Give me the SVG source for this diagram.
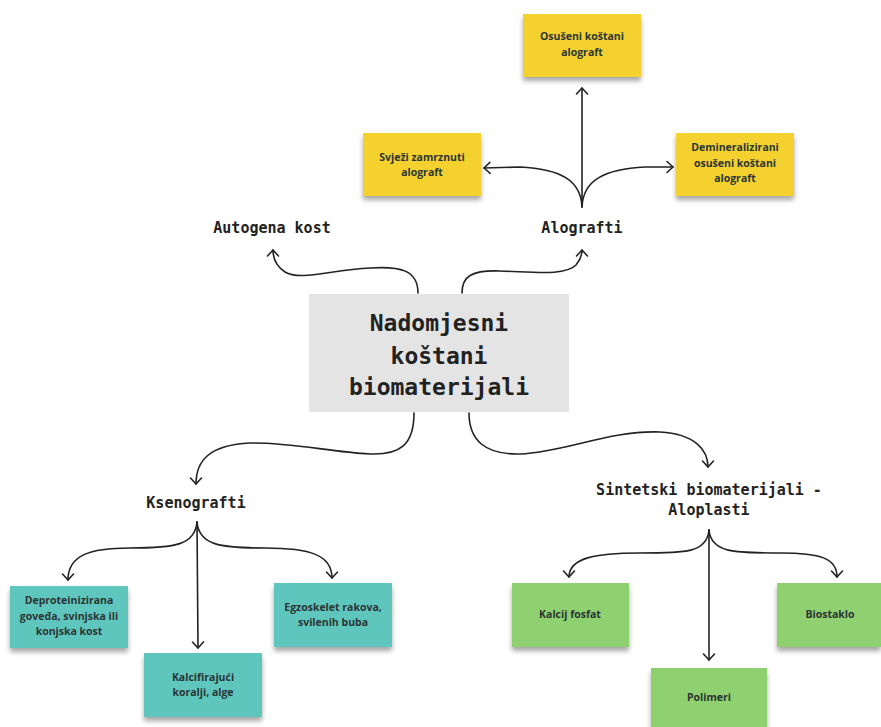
<svg xmlns="http://www.w3.org/2000/svg" width="881" height="727" viewBox="0 0 881 727">
<defs>
<filter id="sh" x="-10%" y="-10%" width="120%" height="140%">
<feDropShadow dx="0" dy="4" stdDeviation="2.5" flood-color="#000" flood-opacity="0.35"/>
</filter>
<marker id="ah" viewBox="-8 -7 10 14" markerWidth="10" markerHeight="14" refX="0" refY="0" orient="auto" markerUnits="userSpaceOnUse">
<path d="M-6,-5.5 L0,0 L-6,5.5" fill="none" stroke="#222" stroke-width="1.6" stroke-linecap="round" stroke-linejoin="round"/>
</marker>
<style>
.mono{font-family:"DejaVu Sans Mono","Liberation Mono",monospace;font-weight:bold;fill:#222;text-anchor:middle}
.lbl{font-size:15px}
.title{font-size:23px}
.note{font-family:"Open Sans","Noto Sans","Liberation Sans",sans-serif;font-weight:bold;font-size:10.5px;fill:#2b3535;text-anchor:middle}
.yel{fill:#f4d12d;filter:url(#sh)}
.teal{fill:#5ec6be;filter:url(#sh)}
.grn{fill:#8fd06f;filter:url(#sh)}
.con path{fill:none;stroke:#222;stroke-width:1.6;stroke-linecap:round;marker-end:url(#ah)}
</style>
</defs>
<rect width="881" height="727" fill="#fff"/>

<g class="con" id="connectors">
<path d="M418,293 C418,270 400,266 370,268 C330,270 300,281 285,272 C276,266 273,258 273,250"/>
<path d="M462,293 C462,276 472,270 500,271 C535,272 565,276 576,265 C581,259 582,255 582,250"/>
<path d="M582,207 L582,88"/>
<path d="M582,207 C581,180 560,169 520,167 L484,168"/>
<path d="M582,207 C583,180 605,169 645,167 L673,167"/>
<path d="M414,413 C414,445 400,455 370,454 C330,452 290,442 250,443 C210,445 196,460 196,484"/>
<path d="M469,413 C469,440 485,455 520,454 C565,452 610,430 660,432 C695,434 708,450 708,467"/>
<path d="M197,522 C195,545 175,548 130,548 C90,548 68,555 68,580"/>
<path d="M197,522 L198,648"/>
<path d="M197,522 C199,545 220,548 265,548 C310,548 332,555 332,578"/>
<path d="M709,530 C707,553 685,553 640,553 C595,553 569,558 569,577"/>
<path d="M709,530 L709,660"/>
<path d="M709,530 C711,553 735,553 780,553 C820,553 837,558 837,577"/>
</g>

<g id="center">
<rect x="309" y="294" width="260" height="118" fill="#e4e4e4"/>
<text class="mono title" x="439" y="331">Nadomjesni</text>
<text class="mono title" x="439" y="364">koštani</text>
<text class="mono title" x="439" y="395">biomaterijali</text>
</g>

<g id="autogena"><text class="mono lbl" x="272" y="233">Autogena kost</text></g>
<g id="alografti"><text class="mono lbl" x="582" y="233">Alografti</text></g>
<g id="ksenografti"><text class="mono lbl" x="196" y="508">Ksenografti</text></g>
<g id="sintetski">
<text class="mono lbl" x="709" y="495">Sintetski biomaterijali -</text>
<text class="mono lbl" x="709" y="515">Aloplasti</text>
</g>

<g id="osuseni">
<rect class="yel" x="523" y="14" width="118" height="63"/>
<text class="note" x="582" y="40">Osušeni koštani</text>
<text class="note" x="582" y="56">alograft</text>
</g>
<g id="svjezi">
<rect class="yel" x="363" y="133" width="118" height="63"/>
<text class="note" x="422" y="161">Svježi zamrznuti</text>
<text class="note" x="422" y="176">alograft</text>
</g>
<g id="demin">
<rect class="yel" x="676" y="133" width="118" height="63"/>
<text class="note" x="735" y="151">Demineralizirani</text>
<text class="note" x="735" y="167">osušeni koštani</text>
<text class="note" x="735" y="182">alograft</text>
</g>

<g id="deprot">
<rect class="teal" x="10" y="586" width="118" height="62"/>
<text class="note" x="69" y="604">Deproteinizirana</text>
<text class="note" x="69" y="620">goveđa, svinjska ili</text>
<text class="note" x="69" y="635">konjska kost</text>
</g>
<g id="kalcif">
<rect class="teal" x="144" y="653" width="118" height="64"/>
<text class="note" x="203" y="681">Kalcifirajući</text>
<text class="note" x="203" y="696">koralji, alge</text>
</g>
<g id="egzo">
<rect class="teal" x="274" y="583" width="118" height="64"/>
<text class="note" x="333" y="611">Egzoskelet rakova,</text>
<text class="note" x="333" y="626">svilenih buba</text>
</g>

<g id="kalcij">
<rect class="grn" x="512" y="583" width="117" height="64"/>
<text class="note" x="570" y="618">Kalcij fosfat</text>
</g>
<g id="biostaklo">
<rect class="grn" x="777" y="583" width="104" height="64"/>
<text class="note" x="830" y="618">Biostaklo</text>
</g>
<g id="polimeri">
<rect class="grn" x="651" y="668" width="116" height="64"/>
<text class="note" x="709" y="701">Polimeri</text>
</g>
</svg>
